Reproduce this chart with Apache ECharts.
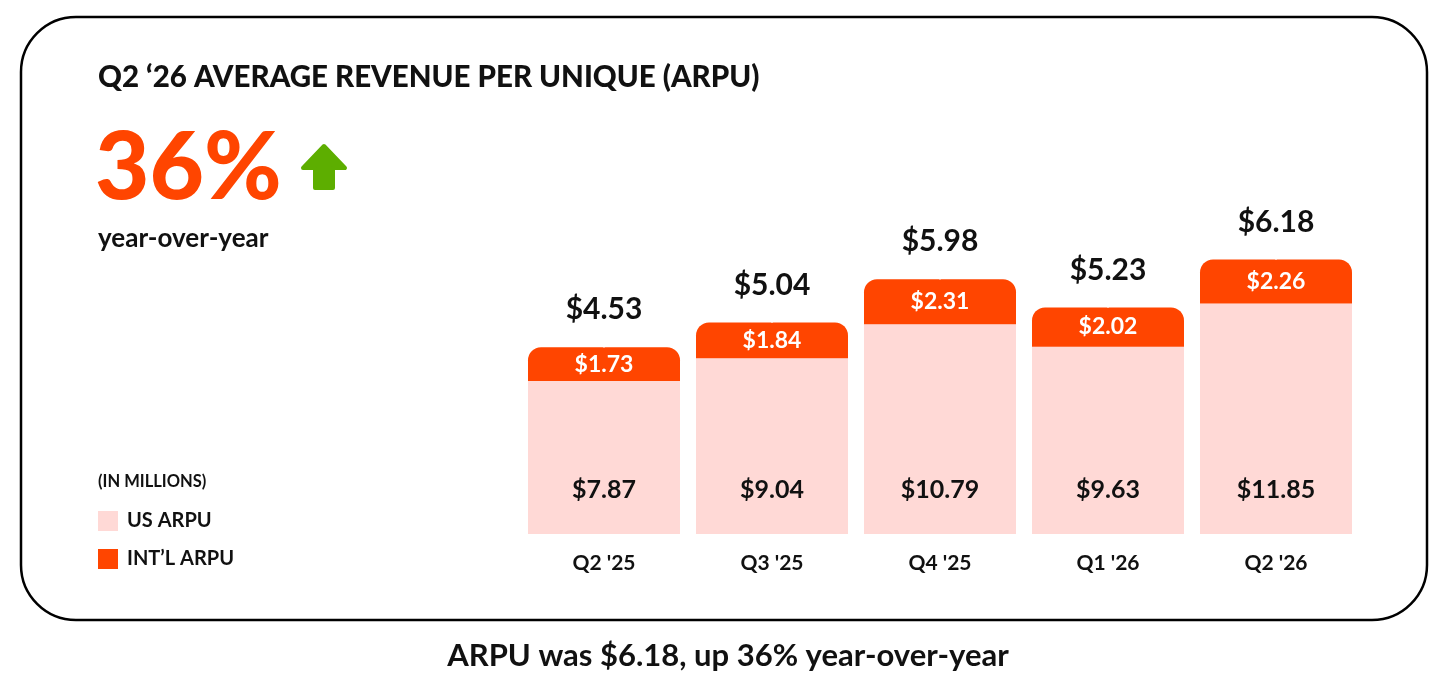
<!DOCTYPE html>
<html>
<head>
<meta charset="utf-8">
<script src="https://cdn.jsdelivr.net/npm/echarts@6/dist/echarts.min.js"></script>
<style>
  html, body { margin: 0; padding: 0; background: #fff; }
  #main { width: 1456px; height: 698px; }
</style>
</head>
<body>
<div id="main"></div>
<script>
var quarters = ["Q2 '25", "Q3 '25", "Q4 '25", "Q1 '26", "Q2 '26"];
var usArpu = [7.87, 9.04, 10.79, 9.63, 11.85];
var intlArpu = [1.73, 1.84, 2.31, 2.02, 2.26];
var totalArpu = [4.53, 5.04, 5.98, 5.23, 6.18];

var PINK = '#FFD9D6', ORANGE = '#FF4500', INK = '#111111';
var FONT = 'Lato';

var myChart = echarts.init(document.getElementById('main'));

// top of each stack, used to place the ARPU label
var stackTops = usArpu.map(function (v, i) { return +(v + intlArpu[i]).toFixed(2); });

function money(v) { return '$' + v.toFixed(2); }

var option = {
  backgroundColor: '#fff',
  animation: false,
  textStyle: { fontFamily: FONT },
  grid: { left: 520, right: 96, top: 145, bottom: 164 },
  legend: {
    data: ['US ARPU', "INT\u2019L ARPU"],
    orient: 'vertical',
    left: 98, top: 511, padding: 0,
    itemWidth: 20, itemHeight: 20, itemGap: 18,
    icon: 'rect',
    selectedMode: false,
    textStyle: { fontFamily: FONT, fontWeight: 'bold', fontSize: 20, color: INK, padding: [0, 0, 0, 4] }
  },
  xAxis: {
    type: 'category',
    data: quarters,
    axisLine: { show: false },
    axisTick: { show: false },
    axisLabel: { margin: 19, fontFamily: FONT, fontWeight: 'bold', fontSize: 21, color: INK }
  },
  yAxis: { type: 'value', min: 0, max: 20, show: false, splitLine: { show: false } },
  series: [
    {
      name: 'US ARPU', type: 'bar', stack: 'arpu', barWidth: 152,
      data: usArpu,
      itemStyle: { color: PINK },
      label: {
        show: true, position: 'insideBottom', distance: 32,
        formatter: function (p) { return money(p.value); },
        fontFamily: FONT, fontWeight: 'bold', fontSize: 25, color: INK
      }
    },
    {
      name: "INT\u2019L ARPU", type: 'bar', stack: 'arpu', barWidth: 152,
      data: intlArpu,
      itemStyle: { color: ORANGE, borderRadius: [13, 13, 0, 0] },
      label: {
        show: true, position: 'inside',
        formatter: function (p) { return money(p.value); },
        fontFamily: FONT, fontWeight: 'bold', fontSize: 23, color: '#fff'
      }
    },
    {
      name: 'total', type: 'scatter', data: stackTops,
      symbol: 'rect', symbolSize: 1,
      itemStyle: { color: '#fff', opacity: 1 },
      silent: true,
      label: {
        show: true, position: 'top', distance: 22,
        formatter: function (p) { return money(totalArpu[p.dataIndex]); },
        fontFamily: FONT, fontWeight: 'bold', fontSize: 30, color: INK, opacity: 1
      },
      emphasis: { disabled: true }
    }
  ],
  graphic: [
    { type: 'rect', z: -1, shape: { x: 21, y: 17, width: 1406, height: 603, r: 55 },
      style: { fill: '#fff', stroke: '#000', lineWidth: 2.5 } },
    { type: 'text', left: 98, top: 62,
      style: { text: 'Q2 \u201826 AVERAGE REVENUE PER UNIQUE (ARPU)', fontFamily: FONT, fontWeight: 900, fontSize: 29.5, fill: INK } },
    { type: 'text', left: 95, top: 122,
      style: { text: '36%', fontFamily: FONT, fontWeight: 900, fontSize: 94, fill: ORANGE } },
    { type: 'polygon', shape: { points: [[324, 146], [345, 168], [333, 168], [333, 188], [315, 188], [315, 168], [303, 168]] },
      style: { fill: '#5DAE00', stroke: '#5DAE00', lineWidth: 4, lineJoin: 'round' } },
    { type: 'text', left: 98, top: 226,
      style: { text: 'year-over-year', fontFamily: FONT, fontWeight: 'bold', fontSize: 26, fill: INK } },
    { type: 'text', left: 98, top: 473,
      style: { text: '(IN MILLIONS)', fontFamily: FONT, fontWeight: 'bold', fontSize: 16.5, fill: INK } },
    { type: 'text', left: 'center', top: 640,
      style: { text: 'ARPU was $6.18, up 36% year-over-year', fontFamily: FONT, fontWeight: 'bold', fontSize: 31, fill: INK } }
  ]
};

myChart.setOption(option);
</script>
</body>
</html>
